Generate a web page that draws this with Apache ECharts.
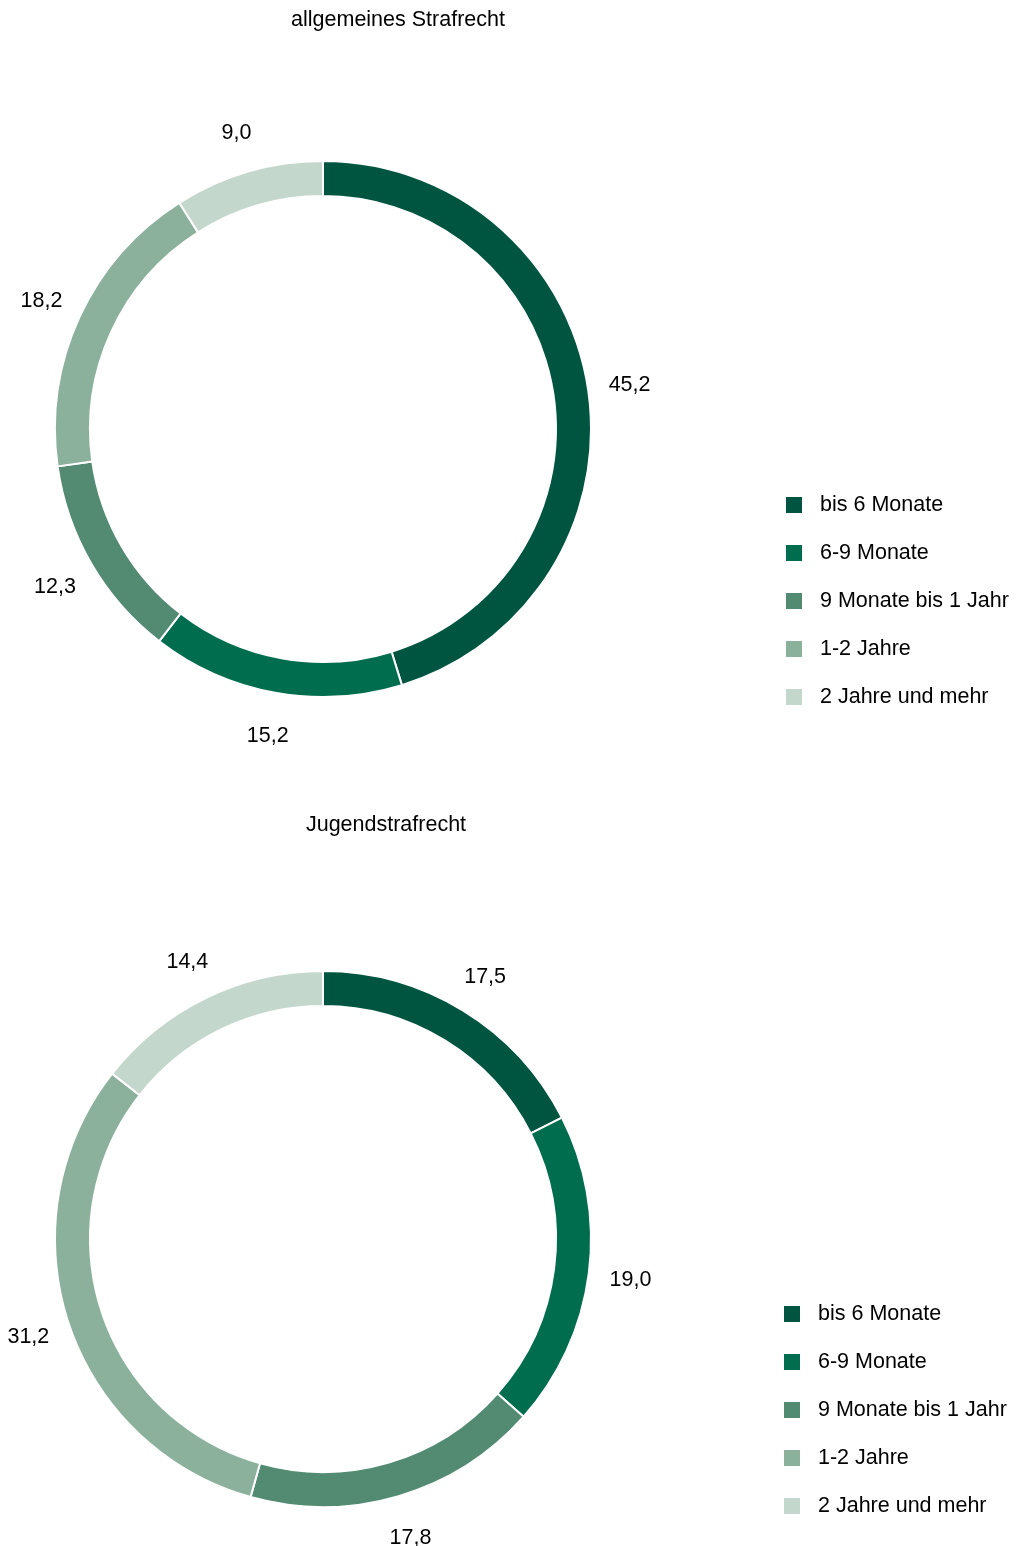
<!DOCTYPE html>
<html>
<head>
<meta charset="utf-8">
<script src="https://cdn.jsdelivr.net/npm/echarts@6/dist/echarts.min.js"></script>
<style>
html,body{margin:0;padding:0;background:#fff;}
#chart{width:1016px;height:1546px;}
</style>
</head>
<body>
<div id="chart"></div>
<script>
var categories = ['bis 6 Monate', '6-9 Monate', '9 Monate bis 1 Jahr', '1-2 Jahre', '2 Jahre und mehr'];
var colors = ['#005541', '#006e4e', '#528b72', '#8bb19c', '#c4d7cc'];
var titleTop = 'allgemeines Strafrecht';
var titleBottom = 'Jugendstrafrecht';
var valuesTop = [45.2, 15.2, 12.3, 18.2, 9.0];
var valuesBottom = [17.5, 19.0, 17.8, 31.2, 14.4];

var FONT = 'Arial, "Liberation Sans", sans-serif';
var FS = 21.5;

function toData(vals) {
  return categories.map(function (c, i) {
    return { name: c, value: vals[i], itemStyle: { color: colors[i] } };
  });
}
function toLabelData(vals) {
  return categories.map(function (c, i) {
    return { name: c, value: vals[i] };
  });
}
function fmt(p) { return p.value.toFixed(1).replace('.', ','); }

function ring(vals, center) {
  return {
    type: 'pie',
    center: center,
    radius: [233, 268],
    startAngle: 90,
    clockwise: true,
    avoidLabelOverlap: false,
    itemStyle: { borderColor: '#ffffff', borderWidth: 2 },
    label: { show: false },
    labelLine: { show: false },
    emphasis: { disabled: true },
    data: toData(vals)
  };
}
function labels(vals, center) {
  return {
    type: 'pie',
    center: center,
    radius: [294, 320],
    startAngle: 90,
    clockwise: true,
    silent: true,
    avoidLabelOverlap: false,
    itemStyle: { color: 'rgba(0,0,0,0)', borderWidth: 0 },
    label: {
      show: true, position: 'inside', formatter: fmt,
      color: '#000', fontSize: FS, fontFamily: FONT, offset: [0, 2]
    },
    labelLine: { show: false },
    emphasis: { disabled: true },
    tooltip: { show: false },
    data: toLabelData(vals)
  };
}
function legend(left, top) {
  return {
    orient: 'vertical',
    left: left,
    top: top,
    itemWidth: 18,
    itemHeight: 18,
    itemGap: 26,
    icon: 'rect',
    selectedMode: false,
    data: categories,
    textStyle: { fontSize: FS, fontFamily: FONT, color: '#000', lineHeight: 18, padding: [0, 0, 0, 12] }
  };
}

var chart = echarts.init(document.getElementById('chart'), null, { renderer: 'canvas' });
chart.setOption({
  animation: false,
  title: [
    { text: titleTop, left: 393, top: 4, textAlign: 'center',
      textStyle: { fontSize: FS, fontWeight: 'normal', fontFamily: FONT, color: '#000' } },
    { text: titleBottom, left: 381, top: 809, textAlign: 'center',
      textStyle: { fontSize: FS, fontWeight: 'normal', fontFamily: FONT, color: '#000' } }
  ],
  legend: [legend(779, 489), legend(777, 1298)],
  series: [
    ring(valuesTop, [323, 429]),
    ring(valuesBottom, [323, 1239]),
    labels(valuesTop, [323, 429]),
    labels(valuesBottom, [323, 1239])
  ]
});
</script>
</body>
</html>
